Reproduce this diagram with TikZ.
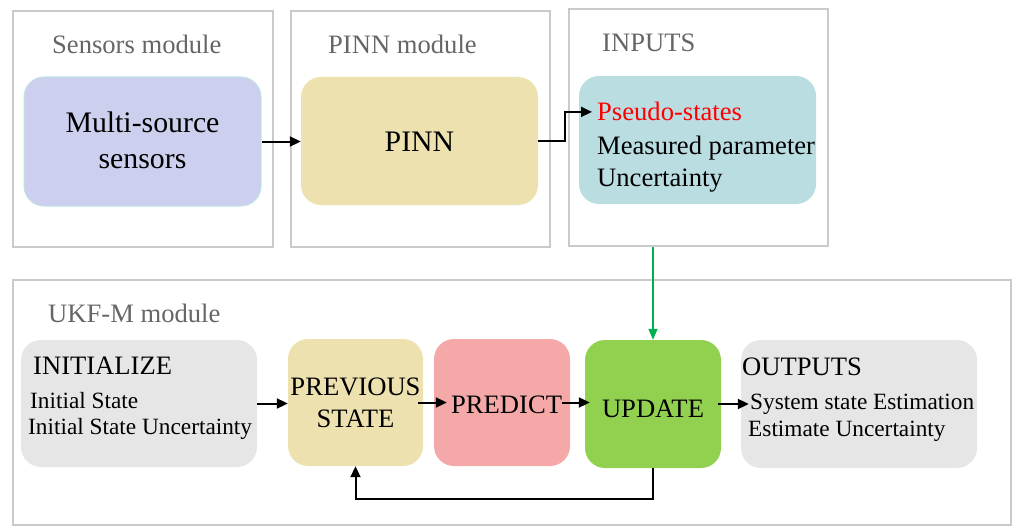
\documentclass[tikz,border=0pt]{standalone}
\usepackage{fontspec}
\setmainfont{Liberation Serif}
\newfontfamily\tnr{Liberation Serif}
\usetikzlibrary{arrows.meta}
\definecolor{framegray}{HTML}{CACACA}
\definecolor{labelgray}{HTML}{666666}
\definecolor{lav}{HTML}{CDCFEE}
\definecolor{lavedge}{HTML}{BFE3E6}
\definecolor{sand}{HTML}{EDE2AF}
\definecolor{tealbox}{HTML}{BADDE1}
\definecolor{lgray}{HTML}{E6E6E6}
\definecolor{pinkbox}{HTML}{F4A9A8}
\definecolor{lgreen}{HTML}{92D050}
\definecolor{dgreen}{HTML}{00B050}
\tikzset{
  frame/.style={draw=framegray, line width=2.8pt, inner sep=0pt},
  box/.style={rounded corners=20pt, inner sep=0pt},
  lbl/.style={anchor=base west, inner sep=0pt, text=labelgray, font=\tnr\fontsize{26.6}{30}\selectfont},
  txt/.style={anchor=base west, inner sep=0pt, font=\tnr\fontsize{26.6}{30}\selectfont},
  ctxt/.style={anchor=base, inner sep=0pt, font=\tnr\fontsize{26.6}{30}\selectfont},
  bigtxt/.style={anchor=base, inner sep=0pt, font=\tnr\fontsize{29.8}{34}\selectfont},
  smalltxt/.style={anchor=base west, inner sep=0pt, font=\tnr\fontsize{23.3}{27}\selectfont},
  arr/.style={line width=2pt, -{Triangle[length=11pt,width=10pt]}},
  garr/.style={line width=1.5pt, draw=dgreen, -{Triangle[length=11pt,width=9pt]}}
}
\begin{document}
\begin{tikzpicture}[x=1pt,y=-1pt]
\useasboundingbox (0,0) rectangle (1013,527);
% frames
\node[frame, minimum width=260pt, minimum height=236pt] (fs) at (143,129) {};
\node[frame, minimum width=259pt, minimum height=236pt] (fp) at (420.5,129) {};
\node[frame, minimum width=259pt, minimum height=237pt] (fi) at (698.5,127.5) {};
\node[frame, minimum width=998pt, minimum height=245pt] (fu) at (512,402.5) {};
% frame labels
\node[lbl] (ls) at (52,54) {Sensors module};
\node[lbl] (lp) at (328,54) {PINN module};
\node[lbl] (li) at (602,52) {INPUTS};
\node[lbl] (lu) at (48,322) {UKF-M module};
% top boxes
\node[box, fill=lav, draw=lavedge, line width=1pt, minimum width=237pt, minimum height=129pt] (sens) at (142.5,141.5) {};
\node[box, fill=sand, minimum width=237pt, minimum height=128pt] (pinn) at (419.5,141) {};
\node[box, fill=tealbox, minimum width=237pt, minimum height=128pt] (inp) at (697.5,140) {};
\node[bigtxt] (t1) at (142.5,132) {Multi-source};
\node[bigtxt] (t2) at (142.5,168) {sensors};
\node[bigtxt] (t3) at (419.5,151) {PINN};
\node[txt, text=red] (ps) at (597,121) {Pseudo-states};
\node[txt] (mp) at (597,154) {Measured parameter};
\node[txt] (un) at (597,186) {Uncertainty};
% bottom boxes
\node[box, fill=lgray, minimum width=236pt, minimum height=127pt] (init) at (139,403.5) {};
\node[box, fill=sand, minimum width=135pt, minimum height=127pt] (prev) at (355.5,402.5) {};
\node[box, fill=pinkbox, minimum width=136pt, minimum height=127pt] (pred) at (502,402.5) {};
\node[box, fill=lgreen, minimum width=136pt, minimum height=128pt] (upd) at (653,404) {};
\node[box, fill=lgray, minimum width=236pt, minimum height=128pt] (out) at (859,404) {};
\node[txt] (ini) at (33,374) {INITIALIZE};
\node[smalltxt] (is1) at (30,408) {Initial State};
\node[smalltxt] (is2) at (28,434) {Initial State Uncertainty};
\node[ctxt] (pv1) at (355.5,395) {PREVIOUS};
\node[ctxt] (pv2) at (355.5,427) {STATE};
\node[txt] (prt) at (451,413) {PREDICT};
\node[ctxt] (upt) at (653,417) {UPDATE};
\node[txt] (ot) at (742,375) {OUTPUTS};
\node[smalltxt] (os1) at (750,409) {System state Estimation};
\node[smalltxt] (os2) at (748,436) {Estimate Uncertainty};
% connectors
\draw[arr] (sens.east) -- (sens.east -| pinn.west);
\draw[arr, shorten >=5pt] (pinn.east) -- ++(27,0) |- (ps.west);
\draw[garr] (upd.north |- fi.south) -- (upd.north);
\draw[arr] (init.east) -- (init.east -| prev.west);
\draw[arr] ([xshift=-5pt]prev.east) -- ([xshift=13pt]pred.west);
\draw[arr] ([xshift=-8pt]pred.east) -- ([xshift=5pt]pred.east -| upd.west);
\draw[arr] ([xshift=-3pt]upd.east) -- ([xshift=8pt]upd.east -| out.west);
\draw[arr] (upd.south) -- ++(0,31) -| (prev.south);
\end{tikzpicture}
\end{document}
